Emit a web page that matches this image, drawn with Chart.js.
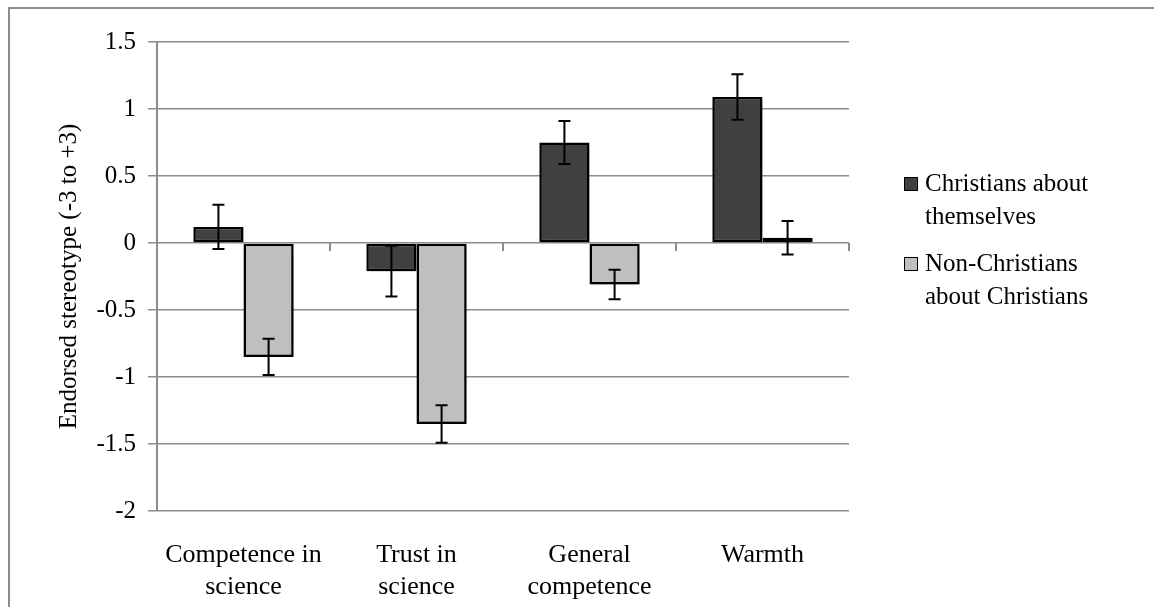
<!DOCTYPE html>
<html>
<head>
<meta charset="utf-8">
<script src="https://cdn.jsdelivr.net/npm/chart.js@4"></script>
<style>
  html, body { margin: 0; padding: 0; background: #fff; }
</style>
</head>
<body>
<canvas id="grafico" width="1154" height="607"></canvas>
<script>
// dados
const categorias = [["Competence in", "science"], ["Trust in", "science"], ["General", "competence"], ["Warmth"]];
const rotulos = [["Christians about", "themselves"], ["Non-Christians", "about Christians"]];
const cristaos = [0.12, -0.21, 0.75, 1.09];
const cristaosErro = [0.165, 0.19, 0.16, 0.17];
const naoCristaos = [-0.85, -1.35, -0.31, 0.04];
const naoCristaosErro = [0.135, 0.14, 0.11, 0.125];

const fonte = "'Liberation Serif', serif";
const cinza = "#8c8c8c";

// moldura, sombra, barras de erro, legenda
const extras = {
  id: "extras",
  beforeDraw(chart) {
    const ctx = chart.ctx;
    ctx.save();
    ctx.strokeStyle = cinza;
    ctx.lineWidth = 2;
    ctx.strokeRect(9, 8, 2000, 2000);
    ctx.restore();
  },
  beforeDatasetsDraw(chart) {
    const ctx = chart.ctx;
    ctx.save();
    ctx.shadowColor = "rgba(0,0,0,0.4)";
    ctx.shadowBlur = 7;
    ctx.shadowOffsetX = 2;
    ctx.shadowOffsetY = 4;
  },
  afterDatasetsDraw(chart) {
    const ctx = chart.ctx;
    ctx.restore();
    const y = chart.scales.y;
    const area = chart.chartArea;

    // marcas do eixo x na linha do zero
    ctx.save();
    ctx.strokeStyle = cinza;
    ctx.lineWidth = 2;
    const y0 = y.getPixelForValue(0);
    const n = categorias.length;
    for (let i = 0; i <= n; i++) {
      const px = area.left + (i * (area.right - area.left)) / n;
      ctx.beginPath();
      ctx.moveTo(px, y0);
      ctx.lineTo(px, y0 + 8);
      ctx.stroke();
    }
    ctx.restore();

    // barras de erro
    const erros = [cristaosErro, naoCristaosErro];
    ctx.save();
    ctx.strokeStyle = "#000";
    ctx.lineWidth = 2;
    chart.data.datasets.forEach(function (ds, d) {
      const meta = chart.getDatasetMeta(d);
      meta.data.forEach(function (bar, i) {
        const v = ds.data[i];
        const e = erros[d][i];
        const top = y.getPixelForValue(v + e);
        const bot = y.getPixelForValue(v - e);
        ctx.beginPath();
        ctx.moveTo(bar.x, top);
        ctx.lineTo(bar.x, bot);
        ctx.moveTo(bar.x - 6, top);
        ctx.lineTo(bar.x + 6, top);
        ctx.moveTo(bar.x - 6, bot);
        ctx.lineTo(bar.x + 6, bot);
        ctx.stroke();
      });
    });
    ctx.restore();
  },
  afterDraw(chart) {
    const ctx = chart.ctx;
    const area = chart.chartArea;
    const lx = area.right + 55;
    let ly = area.top + 142;
    ctx.save();
    ctx.font = "25px " + fonte;
    ctx.textBaseline = "middle";
    chart.data.datasets.forEach(function (ds) {
      ctx.fillStyle = ds.backgroundColor;
      ctx.fillRect(lx, ly - 7, 14, 14);
      ctx.strokeStyle = "#000";
      ctx.lineWidth = 1;
      ctx.strokeRect(lx + 0.5, ly - 6.5, 13, 13);
      ctx.fillStyle = "#000";
      ds.label.forEach(function (linha, k) {
        ctx.fillText(linha, lx + 21, ly + k * 33);
      });
      ly += 80;
    });
    ctx.restore();
  },
};

new Chart(document.getElementById("grafico"), {
  type: "bar",
  data: {
    labels: categorias,
    datasets: [
      {
        label: rotulos[0],
        data: cristaos,
        backgroundColor: "#404040",
        borderColor: "#000",
        borderWidth: 2.5,
        borderSkipped: false,
      },
      {
        label: rotulos[1],
        data: naoCristaos,
        backgroundColor: "#bfbfbf",
        borderColor: "#000",
        borderWidth: 2.5,
        borderSkipped: false,
      },
    ],
  },
  options: {
    responsive: false,
    animation: false,
    categoryPercentage: 0.58,
    barPercentage: 1,
    layout: { padding: { left: 54, right: 305, top: 42, bottom: 0 } },
    plugins: {
      legend: { display: false },
      tooltip: { enabled: false },
    },
    scales: {
      x: {
        grid: { display: false },
        border: { display: false },
        ticks: {
          color: "#000",
          padding: 21,
          maxRotation: 0,
          font: { family: fonte, size: 26, lineHeight: 1.2 },
        },
        afterFit(scale) { scale.height = 96; },
      },
      y: {
        min: -2,
        max: 1.5,
        ticks: {
          stepSize: 0.5,
          color: "#000",
          padding: 12,
          font: { family: fonte, size: 25 },
          callback: function (v) { return String(v); },
        },
        grid: { color: cinza, lineWidth: 1.5, tickLength: 9 },
        border: { color: cinza, width: 2 },
        title: {
          display: true,
          text: "Endorsed stereotype (-3 to +3)",
          color: "#000",
          padding: 0,
          font: { family: fonte, size: 25 },
        },
        afterFit(scale) { scale.width = 103; },
      },
    },
  },
  plugins: [extras],
});
</script>
</body>
</html>
